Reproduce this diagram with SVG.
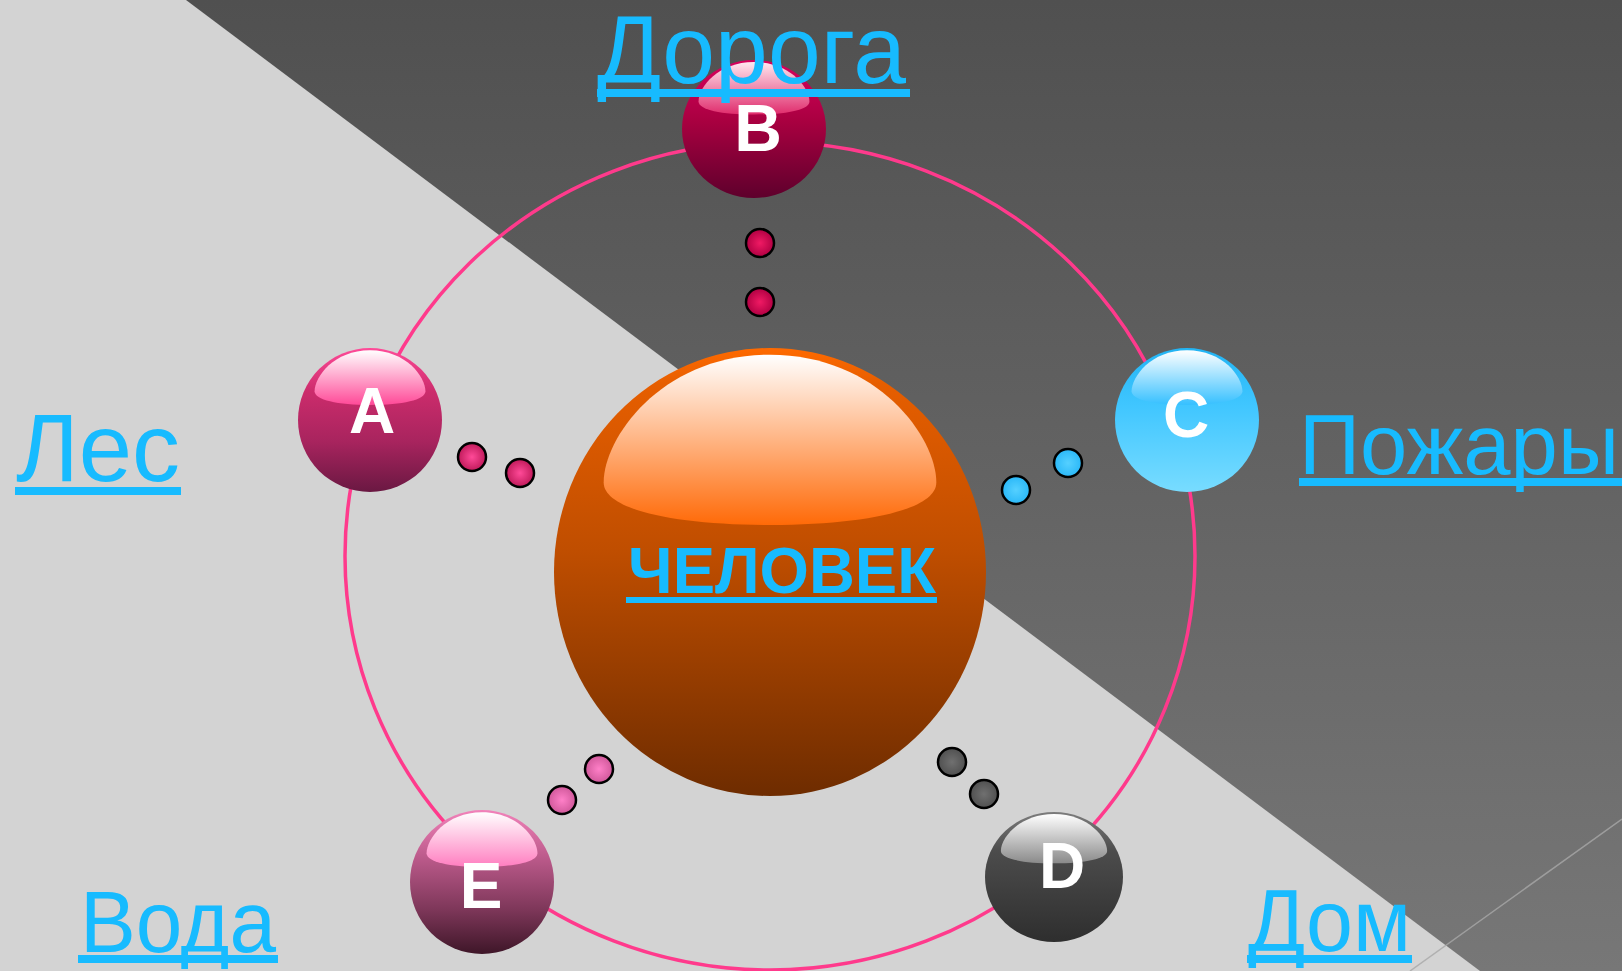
<svg xmlns="http://www.w3.org/2000/svg" xmlns:xlink="http://www.w3.org/1999/xlink" width="1622" height="971" viewBox="0 0 1622 971">
<defs>
<style>
.lbl{font-family:"Liberation Sans",Arial,sans-serif;fill:#17bbff;}
.ctr{font-family:"Liberation Sans",Arial,sans-serif;font-weight:bold;fill:#17bbff;}
.ul{fill:#17bbff;}
.let{font-family:"Liberation Sans",Arial,sans-serif;font-weight:bold;fill:#ffffff;font-size:64px;text-anchor:middle;}
.dot{stroke:#000;stroke-width:2.5;}
.ring{fill:none;stroke:#ff3a8c;stroke-width:3.5;}
</style>
<linearGradient id="bgDark" x1="0" y1="0" x2="0" y2="1"><stop offset="0" stop-color="#505050"/><stop offset="1" stop-color="#777777"/></linearGradient>
<path id="hl" d="M -77,-40 C -77,-60 -50,-97 0,-97 C 50,-97 77,-60 77,-40 C 77,-28 45,-21 0,-21 C -45,-21 -77,-28 -77,-40 Z"/>
<linearGradient id="gO" x1="0" y1="0" x2="0" y2="1"><stop offset="0" stop-color="#ff6a00"/><stop offset="0.08" stop-color="#e65e00"/><stop offset="0.45" stop-color="#c04e00"/><stop offset="1" stop-color="#6e2c00"/></linearGradient>
<linearGradient id="hO" x1="0" y1="0" x2="0" y2="1"><stop offset="0" stop-color="#ffffff"/><stop offset="1" stop-color="#ff6a08"/></linearGradient>
<linearGradient id="gA" x1="0" y1="0" x2="0" y2="1"><stop offset="0" stop-color="#ff4a98"/><stop offset="0.3" stop-color="#cc2c6c"/><stop offset="0.65" stop-color="#a8245e"/><stop offset="1" stop-color="#6a1842"/></linearGradient>
<linearGradient id="hA" x1="0" y1="0" x2="0" y2="1"><stop offset="0" stop-color="#ffffff"/><stop offset="1" stop-color="#ff4a98"/></linearGradient>
<linearGradient id="gB" x1="0" y1="0" x2="0" y2="1"><stop offset="0" stop-color="#d8005c"/><stop offset="0.45" stop-color="#a80040"/><stop offset="1" stop-color="#5e002c"/></linearGradient>
<linearGradient id="hB" x1="0" y1="0" x2="0" y2="1"><stop offset="0" stop-color="#ffe8f0"/><stop offset="1" stop-color="#e02c6c"/></linearGradient>
<linearGradient id="gC" x1="0" y1="0" x2="0" y2="1"><stop offset="0" stop-color="#22b4f4"/><stop offset="0.4" stop-color="#40c6ff"/><stop offset="1" stop-color="#78dcff"/></linearGradient>
<linearGradient id="hC" x1="0" y1="0" x2="0" y2="1"><stop offset="0" stop-color="#ffffff"/><stop offset="1" stop-color="#36c0ff"/></linearGradient>
<linearGradient id="gD" x1="0" y1="0" x2="0" y2="1"><stop offset="0" stop-color="#7c7c7c"/><stop offset="0.3" stop-color="#4c4c4c"/><stop offset="1" stop-color="#2e2e2e"/></linearGradient>
<linearGradient id="hD" x1="0" y1="0" x2="0" y2="1"><stop offset="0" stop-color="#ffffff"/><stop offset="1" stop-color="#8a8a8a"/></linearGradient>
<linearGradient id="gE" x1="0" y1="0" x2="0" y2="1"><stop offset="0" stop-color="#f282ba"/><stop offset="0.35" stop-color="#b85888"/><stop offset="0.7" stop-color="#7c3658"/><stop offset="1" stop-color="#3e1628"/></linearGradient>
<linearGradient id="hE" x1="0" y1="0" x2="0" y2="1"><stop offset="0" stop-color="#ffffff"/><stop offset="1" stop-color="#ff7ec0"/></linearGradient>
<radialGradient id="dA"><stop offset="0" stop-color="#ff4a98"/><stop offset="1" stop-color="#c01a5a"/></radialGradient>
<radialGradient id="dB"><stop offset="0" stop-color="#f01a64"/><stop offset="1" stop-color="#b00042"/></radialGradient>
<radialGradient id="dC"><stop offset="0" stop-color="#55d0ff"/><stop offset="1" stop-color="#2ab8f8"/></radialGradient>
<radialGradient id="dD"><stop offset="0" stop-color="#707070"/><stop offset="1" stop-color="#505050"/></radialGradient>
<radialGradient id="dE"><stop offset="0" stop-color="#ff80c8"/><stop offset="1" stop-color="#d0589a"/></radialGradient>
</defs>

<g id="background">
<rect x="0" y="0" width="1622" height="971" fill="#d3d3d3"/>
<polygon points="186,0 1622,0 1622,971 1480,971" fill="url(#bgDark)"/>
<line x1="1622" y1="819" x2="1410" y2="971" stroke="#a8a8a8" stroke-width="1.5" opacity="0.8"/>
</g>

<g id="orbit">
<ellipse class="ring" cx="770" cy="556" rx="425" ry="414"/>
</g>

<g id="connectors">
<circle class="dot" cx="760" cy="243" r="14" fill="url(#dB)"/>
<circle class="dot" cx="760" cy="302" r="14" fill="url(#dB)"/>
<circle class="dot" cx="472" cy="457" r="14" fill="url(#dA)"/>
<circle class="dot" cx="520" cy="473" r="14" fill="url(#dA)"/>
<circle class="dot" cx="1016" cy="490" r="14" fill="url(#dC)"/>
<circle class="dot" cx="1068" cy="463" r="14" fill="url(#dC)"/>
<circle class="dot" cx="952" cy="762" r="14" fill="url(#dD)"/>
<circle class="dot" cx="984" cy="794" r="14" fill="url(#dD)"/>
<circle class="dot" cx="599" cy="769" r="14" fill="url(#dE)"/>
<circle class="dot" cx="562" cy="800" r="14" fill="url(#dE)"/>
</g>

<g id="node-center">
<ellipse cx="770" cy="572" rx="216" ry="224" fill="url(#gO)"/>
<use xlink:href="#hl" href="#hl" transform="translate(770,572) scale(2.16,2.24)" fill="url(#hO)"/>
<text class="ctr" x="628" y="593" font-size="64" textLength="308" lengthAdjust="spacingAndGlyphs">ЧЕЛОВЕК</text>
<rect class="ul" x="626" y="597" width="311" height="6"/>
</g>

<g id="node-A">
<circle cx="370" cy="420" r="72" fill="url(#gA)"/>
<use xlink:href="#hl" href="#hl" transform="translate(370,420) scale(0.72,0.72)" fill="url(#hA)"/>
<text class="let" x="372" y="433">A</text>
</g>

<g id="node-B">
<ellipse cx="754" cy="129" rx="72" ry="69" fill="url(#gB)"/>
<use xlink:href="#hl" href="#hl" transform="translate(754,129) scale(0.72,0.69)" fill="url(#hB)"/>
<text class="let" x="758" y="151" style="font-size:66px">B</text>
</g>

<g id="node-C">
<circle cx="1187" cy="420" r="72" fill="url(#gC)"/>
<use xlink:href="#hl" href="#hl" transform="translate(1187,420) scale(0.72,0.72)" fill="url(#hC)"/>
<text class="let" x="1186" y="437">C</text>
</g>

<g id="node-D">
<ellipse cx="1054" cy="877" rx="69" ry="65" fill="url(#gD)"/>
<use xlink:href="#hl" href="#hl" transform="translate(1054,877) scale(0.69,0.65)" fill="url(#hD)"/>
<text class="let" x="1062" y="888">D</text>
</g>

<g id="node-E">
<circle cx="482" cy="882" r="72" fill="url(#gE)"/>
<use xlink:href="#hl" href="#hl" transform="translate(482,882) scale(0.72,0.72)" fill="url(#hE)"/>
<text class="let" x="481" y="908">E</text>
</g>

<g id="label-doroga"><text class="lbl" x="597" y="83" font-size="96" textLength="309" lengthAdjust="spacingAndGlyphs">Дорога</text><rect class="ul" x="597" y="89" width="313" height="8"/></g>
<g id="label-les"><text class="lbl" x="16" y="481" font-size="96" textLength="164" lengthAdjust="spacingAndGlyphs">Лес</text><rect class="ul" x="15" y="487" width="166" height="8"/></g>
<g id="label-pozhary"><text class="lbl" x="1299" y="474" font-size="86" textLength="320" lengthAdjust="spacingAndGlyphs">Пожары</text><rect class="ul" x="1299" y="478" width="323" height="8"/></g>
<g id="label-voda"><text class="lbl" x="80" y="952" font-size="88" textLength="196" lengthAdjust="spacingAndGlyphs">Вода</text><rect class="ul" x="78" y="955" width="200" height="8"/></g>
<g id="label-dom"><text class="lbl" x="1248" y="951" font-size="88" textLength="163" lengthAdjust="spacingAndGlyphs">Дом</text><rect class="ul" x="1247" y="955" width="165" height="8"/></g>
</svg>
